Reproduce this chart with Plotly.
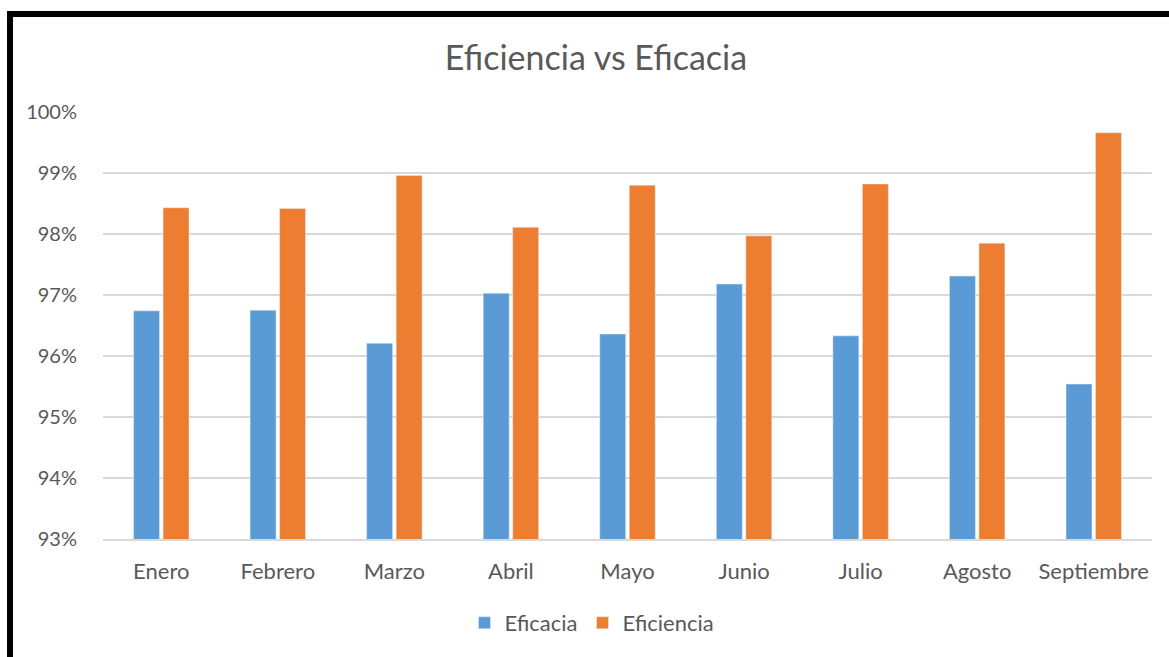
import plotly.graph_objects as go

meses = ["Enero", "Febrero", "Marzo", "Abril", "Mayo", "Junio", "Julio", "Agosto", "Septiembre"]
eficacia = [0.9674, 0.9675, 0.9621, 0.9703, 0.9636, 0.9718, 0.9633, 0.9731, 0.9554]
eficiencia = [0.9843, 0.9842, 0.9896, 0.9811, 0.9880, 0.9797, 0.9882, 0.9785, 0.9966]

FONT = "Lato"
GREY = "#595959"

fig = go.Figure()
fig.add_trace(go.Bar(name="Eficacia", x=meses, y=eficacia, marker_color="#5B9BD5"))
fig.add_trace(go.Bar(name="Eficiencia", x=meses, y=eficiencia, marker_color="#ED7D31"))

L, R, T, B = 103, 17, 112, 118
W, H = 1169, 657
pw, ph = W - L - R, H - T - B

def px_x(x):
    return (x - L) / pw

def px_y(y):
    return (H - B - y) / ph

fig.update_layout(
    width=W, height=H,
    margin=dict(l=L, r=R, t=T, b=B),
    paper_bgcolor="white", plot_bgcolor="white",
    barmode="group", bargap=0.494, bargroupgap=0.12,
    font=dict(family=FONT, color=GREY, size=20),
    title=dict(text="Eficiencia vs Eficacia", x=596 / W, xanchor="center",
               y=1 - 58 / H, yanchor="middle",
               font=dict(family=FONT, size=34, color=GREY)),
    xaxis=dict(showgrid=False, showline=True, linecolor="#d9d9d9", linewidth=2,
               ticks="outside", ticklen=12, tickcolor="rgba(0,0,0,0)",
               tickfont=dict(size=22, color=GREY)),
    yaxis=dict(range=[0.93, 1.0], dtick=0.01, tickformat=".0%",
               showgrid=True, gridcolor="#d9d9d9", gridwidth=2,
               zeroline=False, showline=False, ticks="outside", ticklen=21,
               tickcolor="rgba(0,0,0,0)", tickfont=dict(size=20, color=GREY)),
    legend=dict(orientation="h", x=px_x(592), xanchor="center",
                y=px_y(623), yanchor="middle",
                font=dict(size=22, color=GREY), itemwidth=30),
    showlegend=True,
    shapes=[
        dict(type="line", xref="paper", yref="paper",
             x0=px_x(10), x1=px_x(10), y0=px_y(11), y1=px_y(H + 5),
             line=dict(color="black", width=6)),
        dict(type="line", xref="paper", yref="paper",
             x0=px_x(7), x1=px_x(W + 5), y0=px_y(14), y1=px_y(14),
             line=dict(color="black", width=6)),
    ],
)

fig.write_html("out.html")
